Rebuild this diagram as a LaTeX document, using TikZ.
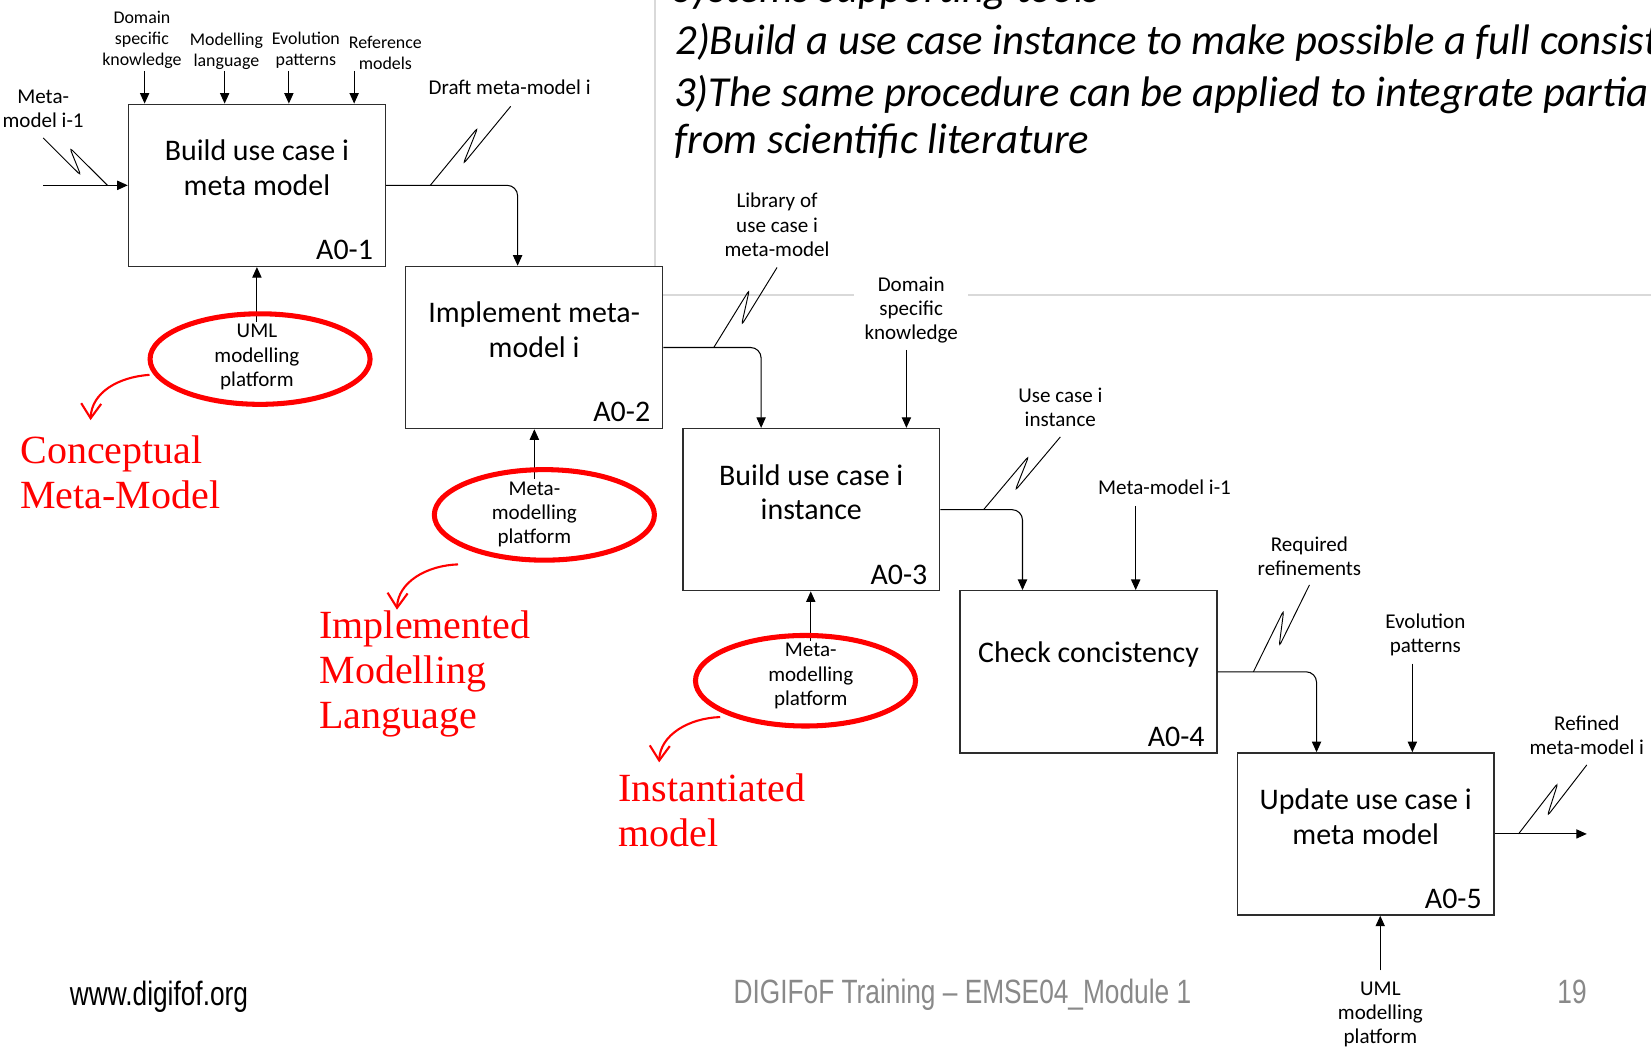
\documentclass[tikz,border=0pt]{standalone}
\usepackage{fontspec}
\setmainfont{Carlito}
\newfontfamily\redserif{Liberation Serif}
\newfontfamily\footfont{Liberation Sans}
\usetikzlibrary{arrows.meta,calc,shapes.geometric}

\definecolor{slidered}{RGB}{255,0,0}
\definecolor{rulegray}{RGB}{217,217,217}
\definecolor{footgray}{RGB}{137,137,137}
\definecolor{boxline}{RGB}{45,45,45}

% IDEF0 leader: straight stroke with a narrow Z-shaped kink
\newcommand{\squig}[4]{%
  \draw[leader] (#1) -- ($(#1)!0.66!(#2)!3.75pt!#3:(#2)$)
    -- ($(#1)!0.34!(#2)!3.75pt!#4:(#2)$) -- (#2);}

\begin{document}
\begin{tikzpicture}[x=0.5pt,y=-0.5pt,
  procbox/.style={draw=boxline, line width=0.65pt, fill=white,
    minimum width=122pt, minimum height=77pt, inner sep=0pt},
  proctext/.style={font=\fontsize{14.2}{16.5}\selectfont, align=center, inner sep=0pt},
  procid/.style={font=\fontsize{14.2}{16.5}\selectfont, inner sep=0pt, anchor=east},
  flowlabel/.style={font=\fontsize{10}{11.5}\selectfont, align=center, inner sep=1pt},
  toplabel/.style={font=\fontsize{8.5}{10}\selectfont, align=center, inner sep=1pt},
  flow/.style={draw=black, line width=0.5pt, -{Triangle[length=5pt,width=4.4pt]}},
  elbow/.style={flow, rounded corners=5pt},
  leader/.style={draw=black, line width=0.45pt, rounded corners=1.8pt},
  markring/.style={draw=slidered, line width=2.4pt, ellipse,
    minimum width=104.5pt, minimum height=43pt, inner sep=0pt},
  redlabel/.style={font=\redserif\fontsize{19}{21.5}\selectfont, text=slidered,
    anchor=base west, inner sep=0pt},
  redhint/.style={draw=slidered, line width=1pt, -{Straight Barb[length=7pt,width=9.5pt]}},
  headline/.style={font=\itshape\fontsize{20.3}{22.5}\selectfont, anchor=base west, inner sep=0pt},
  footline/.style={font=\footfont\fontsize{16}{18}\selectfont, anchor=base, inner sep=0pt, xscale=0.78},
  guide/.style={draw=rulegray, line width=1pt}
]
\useasboundingbox (0,0) rectangle (1568,998);
\clip (0,0) rectangle (1568,998);
\fill[white] (0,0) rectangle (1568,998);

% slide frame rules
\draw[guide] (622,0) -- (622,280) -- (1568,280);

% slide text
\node[headline] (h0) at (640,2) {systems supporting tools};
\node[headline] (h1) at (641,52) {2)Build a use case instance to make possible a full consist};
\node[headline] (h2) at (640,101) {3)The same procedure can be applied to integrate partia};
\node[headline] (h3) at (640,145.5) {from scientific literature};

% activity boxes
\node[procbox] (b1) at (244,176) {};
\node[procbox] (b2) at (507.25,330) {};
\node[procbox] (b3) at (770.5,484) {};
\node[procbox] (b4) at (1033.75,638) {};
\node[procbox] (b5) at (1297,792) {};

\node[proctext] (t1) at ($(b1.north)+(0,61)$) {Build use case i\\meta model};
\node[proctext] (t2) at ($(b2.north)+(0,61)$) {Implement meta-\\model i};
\node[proctext] (t3) at ($(b3.north)+(0,61)$) {Build use case i\\instance};
\node[proctext] (t4) at ($(b4.north)+(0,61)$) {Check concistency};
\node[proctext] (t5) at ($(b5.north)+(0,61)$) {Update use case i\\meta model};

\node[procid] (id1) at ($(b1.south east)+(-12,-16)$) {A0-1};
\node[procid] (id2) at ($(b2.south east)+(-12,-16)$) {A0-2};
\node[procid] (id3) at ($(b3.south east)+(-12,-16)$) {A0-3};
\node[procid] (id4) at ($(b4.south east)+(-12,-16)$) {A0-4};
\node[procid] (id5) at ($(b5.south east)+(-12,-16)$) {A0-5};

% input and output
\coordinate (in1) at (41,176);
\coordinate (out5) at (1507,792);
\draw[flow] (in1) -- (b1.west);
\draw[flow] (b5.east) -- (out5);

% box-to-box flows
\draw[elbow] (b1.east) -| ($(b2.north west)+(107,0)$);
\draw[elbow] (b2.east) -| ($(b3.north west)+(75,0)$);
\draw[elbow] (b3.east) -| ($(b4.north west)+(60,0)$);
\draw[elbow] (b4.east) -| ($(b5.north west)+(76,0)$);

% controls of A0-1
\node[toplabel] (c1) at (134.8,38) {Domain\\specific\\knowledge};
\node[toplabel] (c2) at (215,48.5) {Modelling\\language};
\node[toplabel] (c3) at (290.5,48) {Evolution\\patterns};
\node[toplabel] (c4) at (366,50.5) {Reference\\models};
\coordinate (c1t) at ($(b1.north west)+(16,-31)$);
\coordinate (c2t) at ($(b1.north west)+(92,-31)$);
\coordinate (c3t) at ($(b1.north west)+(153,-31)$);
\coordinate (c4t) at ($(b1.north west)+(215,-31)$);
\foreach \c in {c1t,c2t,c3t,c4t} \draw[flow] (\c) -- (\c |- b1.north);

% flow labels
\node[flowlabel] (lm) at (41,103) {Meta-\\model i-1};
\node[flowlabel] (ld) at (484,83) {Draft meta-model i};
\node[flowlabel] (ll) at (738,213.5) {Library of\\use case i\\meta-model};
\node[flowlabel, fill=white, inner xsep=5pt] (lk) at (865.4,294.5) {Domain\\specific\\knowledge};
\node[flowlabel] (lu) at (1007,386.5) {Use case i\\instance};
\node[flowlabel] (lm4) at (1106,462.8) {Meta-model i-1};
\node[flowlabel] (lr) at (1243.6,528) {Required\\refinements};
\node[flowlabel] (le) at (1353.7,602.8) {Evolution\\patterns};
\node[flowlabel] (lf) at (1507,698.5) {Refined\\meta-model i};
\node[flowlabel] (lb) at (1311,963.5) {UML\\modelling\\platform};

% other controls and mechanisms
\coordinate (k3) at ($(b3.north west)+(213,-74)$);
\coordinate (k4) at ($(b4.north west)+(167.5,-80)$);
\coordinate (k5) at ($(b5.north west)+(167,-84)$);
\coordinate (u5) at ($(b5.south west)+(136.5,52)$);
\draw[flow] (k3) -- (k3 |- b3.north);
\draw[flow] (k4) -- (k4 |- b4.north);
\draw[flow] (k5) -- (k5 |- b5.north);
\draw[flow] (u5) -- (u5 |- b5.south);

% leaders
\coordinate (s1a) at ($(lm)+(0,28)$);    \coordinate (s1b) at ($(in1)!0.76!(b1.west)$);
\coordinate (s2a) at ($(ld)+(1,18)$);    \coordinate (s2b) at ($(b1.east)+(42,0)$);
\coordinate (s3a) at ($(ll)+(0,40.5)$);  \coordinate (s3b) at ($(b2.east)+(48,0)$);
\coordinate (s4a) at ($(lu)+(0,28.5)$);  \coordinate (s4b) at ($(b3.east)+(41,0)$);
\coordinate (s5a) at ($(lr)+(0,27.5)$);  \coordinate (s5b) at ($(b4.east)+(34,0)$);
\coordinate (s6a) at ($(lf)+(0,28)$);    \coordinate (s6b) at ($(b5.east)+(22.5,0)$);
\squig{s1a}{s1b}{-90}{90}
\squig{s2a}{s2b}{90}{-90}
\squig{s3a}{s3b}{90}{-90}
\squig{s4a}{s4b}{90}{-90}
\squig{s5a}{s5b}{90}{-90}
\squig{s6a}{s6b}{90}{-90}

% platform mechanisms
\node[flowlabel] (m1) at (244,339) {UML\\modelling\\platform};
\node[flowlabel] (m2) at (507.5,488.3) {Meta-\\modelling\\platform};
\node[flowlabel] (m3) at (770,642) {Meta-\\modelling\\platform};
\draw[flow] (m1.north) -- (m1.north |- b1.south);
\draw[flow] (m2.north) -- (m2.north |- b2.south);
\draw[flow] (m3.north) -- (m3.north |- b3.south);

% red highlights
\node[markring] (ring1) at (247,341) {};
\node[markring] (ring2) at (517,489) {};
\node[markring] (ring3) at (765,646.5) {};

\coordinate (h1s) at ($(ring1.center)+(-105,15)$);
\coordinate (h1e) at ($(ring1.center)+(-161,58)$);
\coordinate (h2s) at ($(ring2.center)+(-82,47)$);
\coordinate (h2e) at ($(ring2.center)+(-140,90)$);
\coordinate (h3s) at ($(ring3.center)+(-81,34.5)$);
\coordinate (h3e) at ($(ring3.center)+(-139,77.5)$);
\draw[redhint] (h1s) .. controls +(-30,2) and +(1,-26) .. (h1e);
\draw[redhint] (h2s) .. controls +(-30,1) and +(1,-26) .. (h2e);
\draw[redhint] (h3s) .. controls +(-30,1) and +(1,-26) .. (h3e);

\node[redlabel] (r1a) at (19,440) {Conceptual};
\node[redlabel] (r1b) at (19,483) {Meta-Model};
\node[redlabel] (r2a) at (303,606.5) {Implemented};
\node[redlabel] (r2b) at (303,649) {Modelling};
\node[redlabel] (r2c) at (303,692) {Language};
\node[redlabel] (r3a) at (587,761.5) {Instantiated};
\node[redlabel] (r3b) at (587,804) {model};

% footer
\node[footline, text=black] (f1) at (151,955) {www.digifof.org};
\node[footline, text=footgray] (f2) at (914,953) {DIGIFoF Training – EMSE04\_Module 1};
\node[footline, text=footgray] (f3) at (1493,953) {19};
\end{tikzpicture}
\end{document}
